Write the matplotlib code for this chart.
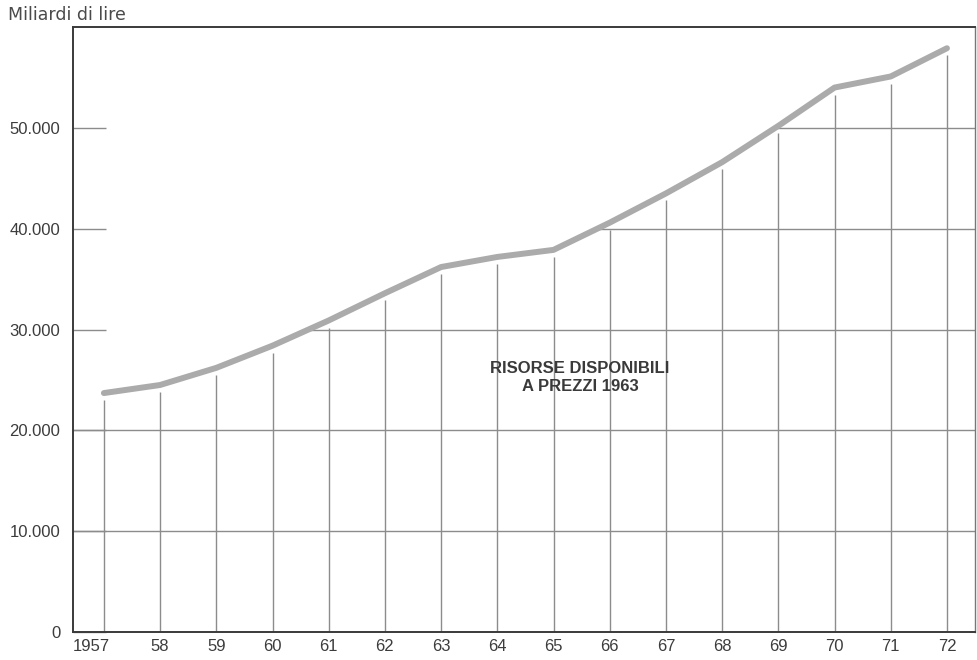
import matplotlib.pyplot as plt
import matplotlib.transforms as mtransforms
import numpy as np

# dati: risorse disponibili a prezzi 1963 (miliardi di lire)
years = np.arange(1957, 1973)
values = [23700, 24500, 26200, 28400, 30900, 33600, 36200, 37200,
          37900, 40600, 43500, 46600, 50200, 54000, 55100, 57900]
year_labels = ['1957', '58', '59', '60', '61', '62', '63', '64',
               '65', '66', '67', '68', '69', '70', '71', '72']
y_ticks = [0, 10000, 20000, 30000, 40000, 50000]
y_labels = ['0', '10.000', '20.000', '30.000', '40.000', '50.000']

plt.rcParams['font.family'] = ['Liberation Sans', 'DejaVu Sans']

fig = plt.figure(figsize=(9.77, 6.6), dpi=100)
ax = fig.add_axes([0.0747, 0.0424, 0.9233, 0.9166])
xmin, xmax = 1956.45, 1972.5
ax.set_xlim(xmin, xmax)
ax.set_ylim(0, 60000)

grid_col = '#8c8c8c'
vals = np.array(values, dtype=float)

# linee orizzontali solo sotto la curva
for lev in y_ticks[1:]:
    if lev <= vals[0]:
        x0 = xmin
    else:
        x0 = np.interp(lev, vals, years)
    ax.plot([x0, xmax], [lev, lev], color=grid_col, lw=1.0, zorder=1)

# linee verticali dalla base fino alla curva
ax.vlines(years, 0, vals - 700, color=grid_col, lw=1.0, zorder=1)

ax.plot(years, vals, color='#ababab', lw=4.3, solid_capstyle='round', zorder=3)

ax.set_xticks(years)
ax.set_xticklabels(year_labels)
ax.set_yticks(y_ticks)
ax.set_yticklabels(y_labels)
ax.tick_params(axis='x', length=0, pad=5, labelsize=12, colors='#3c3c3c')
ax.tick_params(axis='y', direction='in', length=24, width=1.0, color=grid_col,
               pad=9, labelsize=12, labelcolor='#3c3c3c')

# 1957 un po' spostato a sinistra come nell'originale
lab0 = ax.get_xticklabels()[0]
lab0.set_transform(lab0.get_transform() +
                   mtransforms.ScaledTranslation(-0.13, 0, fig.dpi_scale_trans))

for s in ax.spines.values():
    s.set_color('#3a3a3a')
    s.set_linewidth(1.4)
ax.spines['right'].set_color('#777777')
ax.spines['right'].set_linewidth(1.0)

fig.text(0.008, 0.978, 'Miliardi di lire', fontsize=12.5, color='#4a4a4a',
         ha='left', va='center', family=['DejaVu Sans'])

ax.text(1965.47, 25200, 'RISORSE DISPONIBILI\nA PREZZI 1963', fontsize=12,
        fontweight='bold', color='#3a3a3a', ha='center', va='center',
        linespacing=1.25, multialignment='center')

fig.savefig('out.png', dpi=100)
